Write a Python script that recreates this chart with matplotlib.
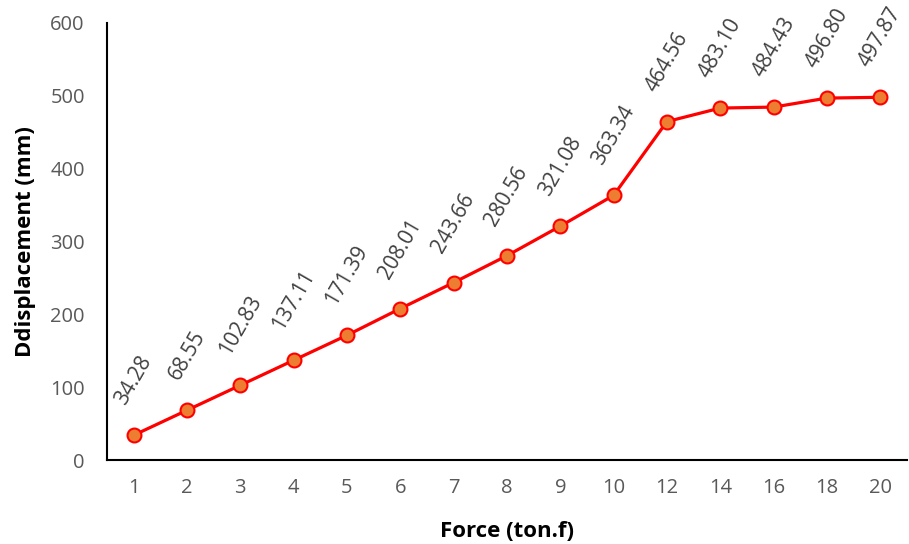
import matplotlib.pyplot as plt

plt.rcParams['font.family'] = ['Open Sans', 'DejaVu Sans']

# data
force = ['1', '2', '3', '4', '5', '6', '7', '8', '9', '10', '12', '14', '16', '18', '20']
displacement = [34.28, 68.55, 102.83, 137.11, 171.39, 208.01, 243.66, 280.56,
                321.08, 363.34, 464.56, 483.10, 484.43, 496.80, 497.87]

fig = plt.figure(figsize=(9.09, 5.44), dpi=100)
ax = fig.add_axes([0.1177, 0.154, 0.88, 0.804])

x = range(len(force))
ax.plot(x, displacement, color='#FF0000', lw=2.3, marker='o', ms=10,
        mfc='#ED7D31', mec='#FF0000', mew=1.5, zorder=3)

for xi, v in zip(x, displacement):
    ax.annotate(f'{v:.2f}', (xi, v), xytext=(0, 19), textcoords='offset points',
                rotation=60, ha='center', va='bottom', fontsize=15, color='#404040')

ax.set_xlim(-0.5, len(force) - 0.5)
ax.set_ylim(0, 600)
ax.set_xticks(list(x))
ax.set_xticklabels(force)
ax.set_yticks(range(0, 601, 100))
ax.tick_params(length=0, labelsize=14.5, labelcolor='#595959')
ax.tick_params(axis='x', pad=13)
ax.tick_params(axis='y', pad=16)

for s in ['top', 'right']:
    ax.spines[s].set_visible(False)
for s in ['left', 'bottom']:
    ax.spines[s].set_linewidth(1.5)

ax.set_xlabel('Force (ton.f)', fontsize=16, fontweight='bold', labelpad=16)
ax.set_ylabel('Ddisplacement (mm)', fontsize=16, fontweight='bold', labelpad=10)

fig.savefig('out.png', dpi=100)
